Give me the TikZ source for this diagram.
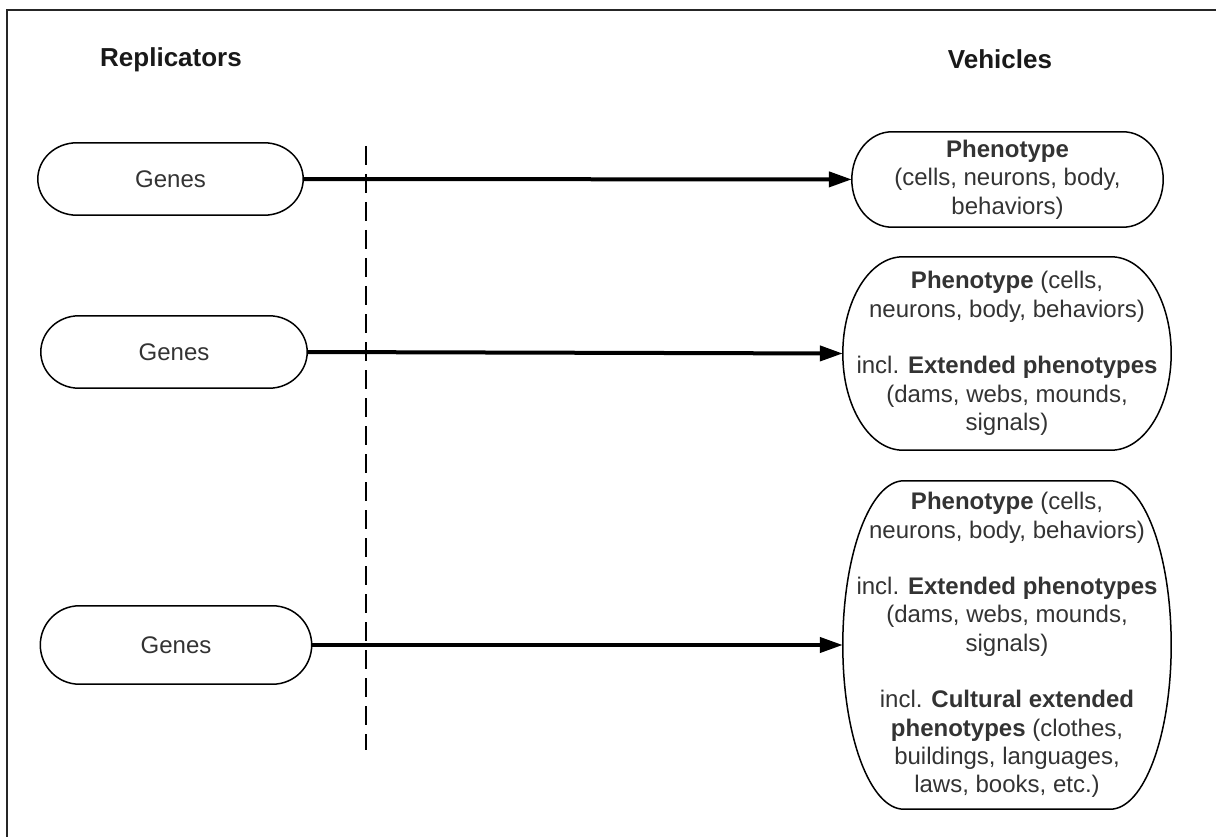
\documentclass[tikz,border=0pt]{standalone}
\usepackage{fontspec}
\setmainfont{Liberation Sans}
\usepackage{tikz}
\usetikzlibrary{calc}
\usetikzlibrary{arrows.meta}

\definecolor{txtgray}{HTML}{333333}

% outline with elliptical end caps around a (plain) node: #1 node, #2 cap width
\newcommand{\capoutline}[2]{%
  \draw[capline]
    ($(#1.north west)+(#2,0)$) -- ($(#1.north east)-(#2,0)$)
    .. controls ($(#1.north east)-(0.448*#2,0)$) and ($(#1.east)!0.552!(#1.north east)$) .. (#1.east)
    .. controls ($(#1.east)!0.552!(#1.south east)$) and ($(#1.south east)-(0.448*#2,0)$) .. ($(#1.south east)-(#2,0)$)
    -- ($(#1.south west)+(#2,0)$)
    .. controls ($(#1.south west)+(0.448*#2,0)$) and ($(#1.west)!0.552!(#1.south west)$) .. (#1.west)
    .. controls ($(#1.west)!0.552!(#1.north west)$) and ($(#1.north west)+(0.448*#2,0)$) .. ($(#1.north west)+(#2,0)$)
    -- cycle;}

\begin{document}
\begin{tikzpicture}[x=1pt, y=-1pt,
    capline/.style={line width=1.5pt, black},
    box/.style={inner sep=0pt, align=center, text=txtgray,
      font=\fontsize{24}{28.3}\selectfont},
    heading/.style={font=\fontsize{26}{30}\selectfont\bfseries, text=black!90},
    link/.style={-{Triangle[length=23pt,width=15pt]}, line width=4pt}]

    \useasboundingbox (0,0) rectangle (1216,837);

    % --- 1. Frame (only left and top edges are in view) ---
    \draw[line width=2pt, black!85] (7,845) -- (7,10) -- (1225,10);

    % --- 2. Headings ---
    \node[heading] (repl) at (171,60) {Replicators};
    \node[heading] (veh) at (1000,59) {Vehicles};

    % --- 3. Replicators (left column) ---
    \node[box, minimum width=265pt, minimum height=72pt] (genesA) at (170.5,179) {Genes};
    \node[box, minimum width=266pt, minimum height=72pt] (genesB) at (174,352) {Genes};
    \node[box, minimum width=271pt, minimum height=78pt] (genesC) at (176,645) {Genes};
    \capoutline{genesA}{39}
    \capoutline{genesB}{38}
    \capoutline{genesC}{39}

    % --- 4. Vehicles (right column) ---
    \node[box, minimum width=311pt, minimum height=95pt] (phenA) at (1007.5,179.5)
        {\textbf{Phenotype}\\ (cells, neurons, body,\\ behaviors)};
    \node[box, minimum width=328pt, minimum height=193pt] (phenB) at (1007,353.5)
        {\textbf{Phenotype} (cells,\\ neurons, body, behaviors)\\[28.3pt]
         incl. \textbf{Extended phenotypes}\\ (dams, webs, mounds,\\ signals)};
    \node[box, minimum width=328pt, minimum height=328pt] (phenC) at (1007,645)
        {\textbf{Phenotype} (cells,\\ neurons, body, behaviors)\\[28.3pt]
         incl. \textbf{Extended phenotypes}\\ (dams, webs, mounds,\\ signals)\\[28.3pt]
         incl. \textbf{Cultural extended}\\ \textbf{phenotypes} (clothes,\\
         buildings, languages,\\ laws, books, etc.)};
    \capoutline{phenA}{40}
    \capoutline{phenB}{60}
    \capoutline{phenC}{61}

    % --- 5. Divider ---
    \coordinate (dashtop) at (366,146);
    \coordinate (dashbot) at (366,750);
    \draw[line width=1.5pt, dash pattern=on 19pt off 9pt] (dashtop) -- (dashbot);

    % --- 6. Links ---
    \draw[link] (genesA) -- (phenA);
    \draw[link] (genesB.east) -- (phenB.west);
    \draw[link] (genesC) -- (phenC);

\end{tikzpicture}
\end{document}
